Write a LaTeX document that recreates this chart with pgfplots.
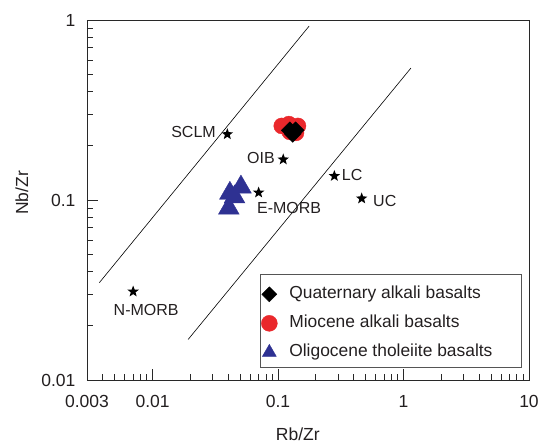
\documentclass[border=0pt]{standalone}
\usepackage{fontspec}
\setmainfont{Liberation Sans}
\usepackage{pgfplots}
\usepackage{pgfplotstable}
\pgfplotsset{compat=1.18}

\definecolor{miored}{RGB}{234,40,44}
\definecolor{oliblue}{RGB}{46,49,146}
\definecolor{axisgray}{RGB}{40,40,40}
\definecolor{framegray}{RGB}{85,85,85}
\definecolor{txt}{RGB}{35,31,32}

% filled five-pointed star
\pgfdeclareplotmark{fstar}{%
  \pgfpathmoveto{\pgfpointpolar{90}{\pgfplotmarksize}}%
  \pgfpathlineto{\pgfpointpolar{126}{0.42\pgfplotmarksize}}%
  \pgfpathlineto{\pgfpointpolar{162}{\pgfplotmarksize}}%
  \pgfpathlineto{\pgfpointpolar{198}{0.42\pgfplotmarksize}}%
  \pgfpathlineto{\pgfpointpolar{234}{\pgfplotmarksize}}%
  \pgfpathlineto{\pgfpointpolar{270}{0.42\pgfplotmarksize}}%
  \pgfpathlineto{\pgfpointpolar{306}{\pgfplotmarksize}}%
  \pgfpathlineto{\pgfpointpolar{342}{0.42\pgfplotmarksize}}%
  \pgfpathlineto{\pgfpointpolar{18}{\pgfplotmarksize}}%
  \pgfpathlineto{\pgfpointpolar{54}{0.42\pgfplotmarksize}}%
  \pgfpathclose
  \pgfusepathqfill
}

% Rb/Zr  Nb/Zr
\pgfplotstableread{
x      y
0.124  0.244
0.138  0.244
0.131  0.233
}\quaternary

\pgfplotstableread{
x      y
0.107  0.258
0.122  0.264
0.144  0.258
0.139  0.236
0.124  0.239
}\miocene

\pgfplotstableread{
x       y
0.0405  0.090
0.0413  0.109
0.0450  0.104
0.0506  0.118
}\oligocene

% reference reservoirs: SCLM, OIB, E-MORB, N-MORB, LC, UC
\pgfplotstableread{
x       y
0.0394  0.232
0.110   0.168
0.070   0.110
0.0070  0.031
0.281   0.136
0.464   0.102
}\reservoirs

\begin{document}
\begin{tikzpicture}
\begin{axis}[
  scale only axis, width=442pt, height=360pt,
  xmode=log, ymode=log,
  xmin=0.003, xmax=10, ymin=0.01, ymax=1,
  xtick={0.003,0.01,0.1,1,10},
  xticklabels={0.003,0.01,0.1,1,10},
  ytick={0.01,0.1,1},
  yticklabels={0.01,0.1,1},
  minor xtick={0.004,0.005,0.006,0.007,0.008,0.009,
               0.02,0.03,0.04,0.05,0.06,0.07,0.08,0.09,
               0.2,0.3,0.4,0.5,0.6,0.7,0.8,0.9,
               2,3,4,5,6,7,8,9},
  minor ytick={0.02,0.03,0.04,0.05,0.06,0.07,0.08,0.09,
               0.2,0.3,0.4,0.5,0.6,0.7,0.8,0.9},
  tick align=inside,
  xtick pos=bottom, ytick pos=left,
  major tick length=11pt, minor tick length=6pt,
  tick style={axisgray, line width=0.8pt},
  axis line style={axisgray, line width=0.9pt},
  font=\fontsize{17.5}{21}\selectfont,
  every tick label/.append style={text=txt},
  xticklabel style={yshift=-12pt},
  yticklabel style={xshift=-8pt},
  xlabel={Rb/Zr}, ylabel={Nb/Zr},
  x label style={at={(rel axis cs:0.477,0)}, anchor=center, yshift=-54pt, text=txt},
  y label style={at={(rel axis cs:0,0.52)}, anchor=center, rotate=0, yshift=65pt, text=txt},
  legend cell align=left,
  legend style={draw=none, fill=none, at={(rel axis cs:0.394,0.2705)}, anchor=north west,
    inner sep=0pt, row sep=6pt, column sep=9pt,
    nodes={inner sep=3pt, text height=13pt, text depth=4pt, text=txt},
    font=\fontsize{17.4}{21}\selectfont},
]
% discrimination lines
\addplot[black, line width=0.6pt, forget plot] coordinates {(0.00376,0.0347) (0.177,0.926)};
\addplot[black, line width=0.6pt, forget plot] coordinates {(0.0192,0.0168) (1.146,0.541)};

% legend frame
\draw[framegray, line width=0.8pt] (rel axis cs:0.393,0.036) rectangle (rel axis cs:0.982,0.292);

\addlegendimage{only marks, mark=square*, mark size=5.3pt, mark options={rotate=45, fill=black, draw=black}}
\addlegendentry{Quaternary alkali basalts}
\addlegendimage{only marks, mark=*, mark size=8pt, mark options={fill=miored, draw=miored}}
\addlegendentry{Miocene alkali basalts}
\addlegendimage{only marks, mark=triangle*, mark size=8pt, mark options={fill=oliblue, draw=oliblue}}
\addlegendentry{Oligocene tholeiite basalts}

\addplot[only marks, mark=*, mark size=8pt, mark options={fill=miored, draw=miored}, forget plot] table {\miocene};
\addplot[only marks, mark=square*, mark size=6pt, mark options={rotate=45, fill=black, draw=black}, forget plot] table {\quaternary};
\addplot[only marks, mark=triangle*, mark size=12pt, mark options={fill=oliblue, draw=oliblue}, forget plot] table {\oligocene};
\addplot[only marks, mark=fstar, mark size=6pt, black, forget plot] table {\reservoirs};

\begin{scope}[font=\fontsize{16}{19}\selectfont, text=txt]
\node[anchor=east] at (axis cs:0.0394,0.232) [xshift=-8pt, yshift=2.5pt] {SCLM};
\node[anchor=east] at (axis cs:0.110,0.168) [xshift=-5pt, yshift=1pt] {OIB};
\node[anchor=west] at (axis cs:0.070,0.110) [xshift=-5pt, yshift=-15.5pt] {E-MORB};
\node[anchor=center] at (axis cs:0.0070,0.031) [xshift=13pt, yshift=-18pt] {N-MORB};
\node[anchor=west] at (axis cs:0.281,0.136) [xshift=4pt, yshift=1pt] {LC};
\node[anchor=west] at (axis cs:0.464,0.102) [xshift=8pt, yshift=-2.5pt] {UC};
\end{scope}
\end{axis}
\pgfresetboundingbox
\path[use as bounding box] ([shift={(-87pt,-63pt)}]current axis.south west) rectangle ([shift={(10pt,20pt)}]current axis.north east);
\end{tikzpicture}
\end{document}
